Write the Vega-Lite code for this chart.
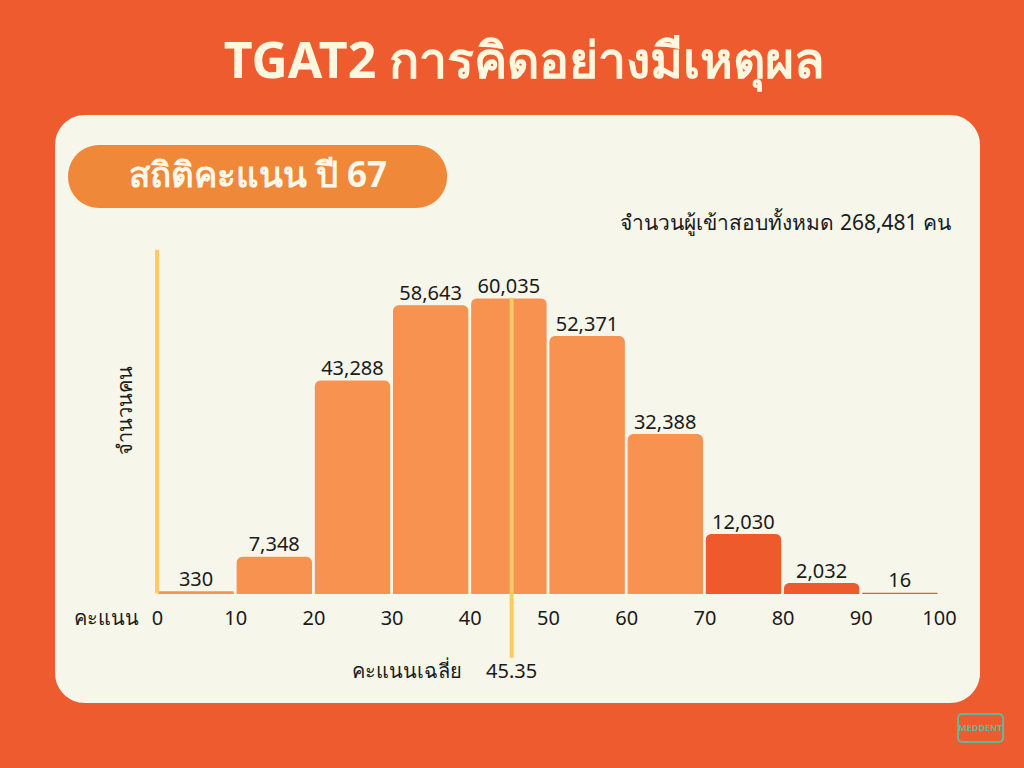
{
  "$schema": "https://vega.github.io/schema/vega-lite/v6.json",
  "width": 925,
  "height": 588,
  "autosize": {"type": "none"},
  "padding": {"left": 55, "top": 115, "right": 44, "bottom": 65},
  "background": "#EE5B2F",
  "config": {
    "view": {"fill": "#F6F6EA", "stroke": null, "cornerRadius": 30},
    "font": "Noto Sans"
  },
  "title": {
    "text": "TGAT2 การคิดอย่างมีเหตุผล",
    "fontSize": 50,
    "fontWeight": "bold",
    "color": "#FCF7DE",
    "anchor": "middle",
    "frame": "group",
    "offset": 27,
    "dx": 7
  },
  "datasets": {
    "bins": [
      {"start": 0, "end": 10, "count": 330},
      {"start": 10, "end": 20, "count": 7348},
      {"start": 20, "end": 30, "count": 43288},
      {"start": 30, "end": 40, "count": 58643},
      {"start": 40, "end": 50, "count": 60035},
      {"start": 50, "end": 60, "count": 52371},
      {"start": 60, "end": 70, "count": 32388},
      {"start": 70, "end": 80, "count": 12030},
      {"start": 80, "end": 90, "count": 2032},
      {"start": 90, "end": 100, "count": 16}
    ],
    "stats": [{"mean": 45.35, "total": "จำนวนผู้เข้าสอบทั้งหมด 268,481 คน", "heading": "สถิติคะแนน ปี 67"}]
  },
  "layer": [
    {
      "data": {"name": "bins"},
      "mark": {"type": "rect", "xOffset": 2, "x2Offset": -2, "cornerRadiusTopLeft": 5, "cornerRadiusTopRight": 5, "strokeWidth": 1.2},
      "encoding": {
        "x": {
          "field": "start", "type": "quantitative",
          "scale": {"domain": [-13.05, 105.25], "nice": false, "zero": false},
          "axis": {
            "values": [0, 10, 20, 30, 40, 50, 60, 70, 80, 90, 100],
            "domain": false, "ticks": false, "grid": false,
            "labelFontSize": 20, "labelColor": "#1A1A1A", "labelBaseline": "middle",
            "labelPadding": 0, "labelFlush": false, "labelOverlap": false, "offset": -85,
            "title": "คะแนน", "titleX": 51, "titleY": 0, "titleAngle": 0,
            "titleBaseline": "middle", "titleAlign": "center",
            "titleFontSize": 20, "titleFontWeight": "normal", "titleColor": "#1A1A1A"
          }
        },
        "x2": {"field": "end"},
        "y": {
          "field": "count", "type": "quantitative",
          "scale": {"domain": [-22320, 97550], "nice": false, "zero": false},
          "axis": {
            "labels": false, "ticks": false, "domain": false, "grid": false,
            "title": "จำนวนคน", "titleAngle": 270, "titleX": 70, "titleY": 295,
            "titleBaseline": "middle", "titleAlign": "center",
            "titleFontSize": 20, "titleFontWeight": "normal", "titleColor": "#1A1A1A"
          }
        },
        "y2": {"datum": 0},
        "color": {
          "condition": {"test": "datum.start >= 70", "value": "#EF5A2D"},
          "value": "#F79251"
        },
        "stroke": {
          "condition": {"test": "datum.start >= 70", "value": "#EF5A2D"},
          "value": "#F79251"
        }
      }
    },
    {
      "data": {"name": "bins"},
      "mark": {"type": "text", "fontSize": 20, "color": "#1A1A1A", "align": "center", "baseline": "alphabetic", "dy": -6, "xOffset": 39},
      "encoding": {
        "x": {"field": "start", "type": "quantitative"},
        "y": {"field": "count", "type": "quantitative"},
        "text": {"field": "count", "type": "quantitative", "format": ","}
      }
    },
    {
      "data": {"name": "stats"},
      "mark": {"type": "rect", "cornerRadius": 31, "color": "#F0883A"},
      "encoding": {
        "x": {"datum": -11.38, "type": "quantitative"},
        "x2": {"datum": 37.09},
        "y": {"datum": 78590, "type": "quantitative"},
        "y2": {"datum": 91440}
      }
    },
    {
      "data": {"name": "stats"},
      "mark": {"type": "text", "fontSize": 35, "fontWeight": "bold", "color": "#FBF8EA", "align": "center", "baseline": "middle"},
      "encoding": {
        "x": {"datum": 12.9, "type": "quantitative"},
        "y": {"datum": 85100, "type": "quantitative"},
        "text": {"field": "heading"}
      }
    },
    {
      "data": {"name": "stats"},
      "mark": {"type": "text", "fontSize": 21, "color": "#1A1A1A", "align": "right", "baseline": "middle"},
      "encoding": {
        "x": {"datum": 101.55, "type": "quantitative"},
        "y": {"datum": 75300, "type": "quantitative"},
        "text": {"field": "total"}
      }
    },
    {
      "data": {"name": "stats"},
      "mark": {"type": "rule", "color": "#FFC966", "strokeWidth": 4},
      "encoding": {
        "x": {"datum": 0, "type": "quantitative"},
        "y": {"datum": 0, "type": "quantitative"},
        "y2": {"datum": 70100}
      }
    },
    {
      "data": {"name": "stats"},
      "mark": {"type": "rule", "color": "#FFC966", "strokeWidth": 4},
      "encoding": {
        "x": {"field": "mean", "type": "quantitative"},
        "y": {"datum": -13100, "type": "quantitative"},
        "y2": {"datum": 60300}
      }
    },
    {
      "data": {"name": "stats"},
      "mark": {"type": "text", "fontSize": 20, "color": "#1A1A1A", "align": "center", "baseline": "middle"},
      "encoding": {
        "x": {"field": "mean", "type": "quantitative"},
        "y": {"datum": -15900, "type": "quantitative"},
        "text": {"field": "mean", "type": "quantitative", "format": ".2f"}
      }
    },
    {
      "data": {"name": "stats"},
      "mark": {"type": "text", "fontSize": 20, "color": "#1A1A1A", "align": "right", "baseline": "middle", "dx": -50},
      "encoding": {
        "x": {"field": "mean", "type": "quantitative"},
        "y": {"datum": -15900, "type": "quantitative"},
        "text": {"value": "คะแนนเฉลี่ย"}
      }
    },
    {
      "data": {"name": "stats"},
      "mark": {"type": "rect", "cornerRadius": 4, "fill": null, "stroke": "#62B89B", "strokeWidth": 2},
      "encoding": {
        "x": {"datum": 102.44, "type": "quantitative"},
        "x2": {"datum": 108.2},
        "y": {"datum": -24570, "type": "quantitative"},
        "y2": {"datum": -30280}
      }
    },
    {
      "data": {"name": "stats"},
      "mark": {"type": "text", "fontSize": 9, "fontWeight": "bold", "color": "#62B89B", "align": "center", "baseline": "middle"},
      "encoding": {
        "x": {"datum": 105.3, "type": "quantitative"},
        "y": {"datum": -27400, "type": "quantitative"},
        "text": {"value": "MEDDENT"}
      }
    }
  ]
}
